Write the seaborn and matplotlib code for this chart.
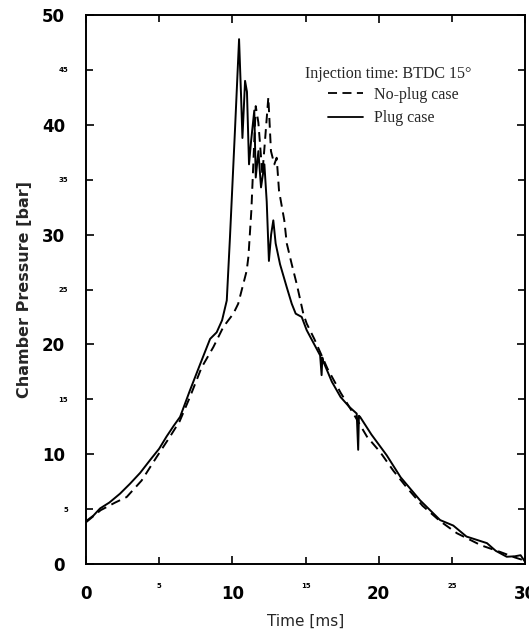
import numpy as np
import pandas as pd
import matplotlib
matplotlib.use("Agg")
import matplotlib.pyplot as plt
import seaborn as sns
from matplotlib.ticker import FixedLocator, FixedFormatter

# ---- data ----
time_plug = [0.0, 0.5, 0.96, 1.6, 2.32, 3.0, 3.7, 4.37, 5.0, 5.5, 6.0, 6.43, 7.1, 7.8,
             8.48, 8.93, 9.3, 9.62, 9.84, 10.18, 10.46, 10.6, 10.69, 10.87, 11.0, 11.14,
             11.28, 11.5, 11.6, 11.78, 11.96, 12.19, 12.35, 12.5, 12.65, 12.8, 12.96,
             13.26, 13.72, 14.06, 14.33, 14.74, 15.08, 15.6, 16.0, 16.1, 16.15, 16.2,
             16.8, 17.4, 18.0, 18.5, 18.6, 18.65, 18.73, 19.5, 20.55, 21.5, 22.83, 24.2,
             25.1, 26.0, 27.4, 28.0, 28.75, 29.3, 29.7, 30.0]
p_plug = [3.9, 4.4, 5.06, 5.6, 6.4, 7.3, 8.3, 9.45, 10.5, 11.6, 12.6, 13.4, 15.8, 18.2,
          20.5, 21.1, 22.2, 24.0, 29.8, 39.5, 47.8, 42.5, 38.8, 44.0, 43.0, 36.4,
          38.5, 41.3, 35.2, 37.6, 34.3, 36.4, 33.0, 27.6, 30.0, 31.3, 29.2,
          27.3, 25.2, 23.7, 22.8, 22.5, 21.3, 20.0, 19.0, 17.2, 18.8, 18.5,
          16.6, 15.2, 14.3, 13.7, 10.4, 13.5, 13.4, 11.8, 9.9, 7.9, 5.8, 4.0,
          3.5, 2.5, 1.9, 1.2, 0.66, 0.7, 0.8, 0.2]

time_noplug = [0.0, 1.0, 2.0, 2.78, 3.8, 4.83, 5.74, 6.4, 7.1, 7.9, 8.7, 9.39, 10.07,
               10.4, 10.98, 11.1, 11.3, 11.6, 11.78, 12.05, 12.2, 12.46, 12.64, 12.87,
               13.03, 13.19, 13.55, 13.72, 14.06, 14.4, 14.85, 15.08, 15.6, 16.5, 17.4,
               18.27, 19.2, 20.1, 21.0, 21.9, 23.0, 24.2, 25.35, 27.0, 28.3, 29.3, 30.0]
p_noplug = [3.8, 4.9, 5.6, 6.1, 7.6, 9.75, 11.6, 13.0, 15.2, 17.9, 19.75, 21.6, 22.8,
            23.7, 26.7, 28.0, 32.2, 41.7, 40.2, 35.5, 38.0, 42.5, 37.6, 36.4,
            37.0, 34.0, 31.3, 29.2, 27.3, 25.5, 22.8, 21.9, 20.5, 17.8, 15.6,
            13.7, 11.6, 10.2, 8.5, 7.0, 5.3, 3.9, 2.8, 1.7, 1.1, 0.6, 0.3]

series_names = ["No-plug case", "Plug case"]
legend_title = "Injection time: BTDC 15°"

x_major = [0, 10, 20, 30]
x_minor = [5, 15, 25]
y_major = [0, 10, 20, 30, 40, 50]
y_minor = [5, 15, 25, 35, 45]

df_noplug = pd.DataFrame({"t": time_noplug, "p": p_noplug, "case": series_names[0]})
df_plug = pd.DataFrame({"t": time_plug, "p": p_plug, "case": series_names[1]})

sns.set_style("ticks")
plt.rcParams["font.family"] = ["DejaVu Sans"]

W, H = 529, 632
fig = plt.figure(figsize=(W / 100, H / 100), dpi=100)
ax = fig.add_axes([86 / W, 1 - 564 / H, (525 - 86) / W, (564 - 15) / H])

sns.lineplot(data=df_noplug, x="t", y="p", ax=ax, color="black", lw=1.4,
             sort=False, estimator=None, label=series_names[0],
             linestyle=(0, (5, 3)))
sns.lineplot(data=df_plug, x="t", y="p", ax=ax, color="black", lw=1.4,
             sort=False, estimator=None, label=series_names[1])

ax.set_xlim(0, 30)
ax.set_ylim(0, 50)

ax.xaxis.set_major_locator(FixedLocator(x_major))
ax.xaxis.set_minor_locator(FixedLocator(x_minor))
ax.yaxis.set_major_locator(FixedLocator(y_major))
ax.yaxis.set_minor_locator(FixedLocator(y_minor))
ax.xaxis.set_minor_formatter(FixedFormatter([str(v) for v in x_minor]))
ax.yaxis.set_minor_formatter(FixedFormatter([str(v) for v in y_minor]))

ax.tick_params(which="both", direction="in", top=True, right=True, width=1.2,
               colors="black")
ax.tick_params(which="major", length=6, labelsize=12)
ax.tick_params(which="minor", length=5, labelsize=5)
ax.tick_params(axis="x", which="major", pad=15)
ax.tick_params(axis="x", which="minor", pad=14)
ax.tick_params(axis="y", which="major", pad=15)
ax.tick_params(axis="y", which="minor", pad=13)
for lab in (ax.get_xticklabels() + ax.get_yticklabels()
            + ax.get_xticklabels(minor=True) + ax.get_yticklabels(minor=True)):
    lab.set_fontweight("bold")

for s in ax.spines.values():
    s.set_linewidth(1.4)
    s.set_color("black")

ax.set_xlabel("Time [ms]", fontsize=11, labelpad=8)
ax.set_ylabel("Chamber Pressure [bar]", fontsize=11.5, fontweight="bold", labelpad=7)

# legend title as a separate text, legend entries indented beneath it
fig.text(305 / W, 1 - 74 / H, legend_title, ha="left", va="center",
         family="Liberation Serif", fontsize=11.5)
leg = ax.legend(loc="upper left", bbox_to_anchor=(328 / W, 1 - 87 / H),
                bbox_transform=fig.transFigure, frameon=False,
                borderpad=0, borderaxespad=0, handlelength=2.2,
                handletextpad=0.7, labelspacing=0.45,
                prop={"family": "Liberation Serif", "size": 11.5})
for line in leg.get_lines():
    line.set_linewidth(1.3)

fig.savefig("out.png", dpi=100)
